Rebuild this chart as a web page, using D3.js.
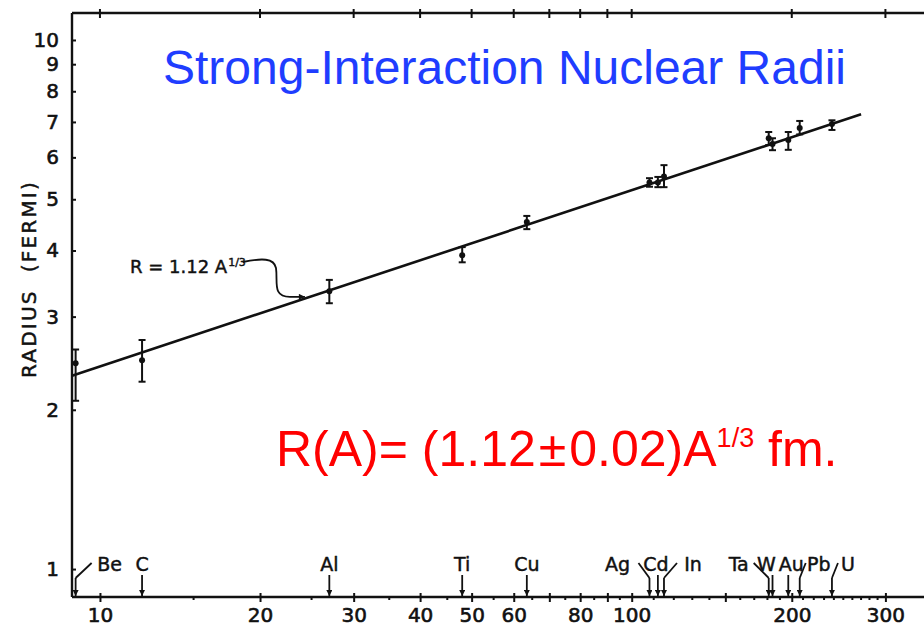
<!DOCTYPE html>
<html>
<head>
<meta charset="utf-8">
<script src="https://cdn.jsdelivr.net/npm/d3@7"></script>
<style>
  body { margin: 0; background: #fff; }
  svg { display: block; }
</style>
</head>
<body>
<svg id="chart" width="924" height="628"></svg>
<script>
// nuclei measured (mass number A, radius in fermi, error bar ends)
const elements = ["Be", "C", "Al", "Ti", "Cu", "Ag", "Cd", "In", "Ta", "W", "Au", "Pb", "U"];
const massNumbers = [9, 12, 27, 48, 63.5, 108, 112, 115, 181, 184, 197, 207, 238];
const radii = [2.45, 2.48, 3.35, 3.92, 4.53, 5.38, 5.38, 5.52, 6.52, 6.36, 6.47, 6.82, 6.94];
const radiusLow = [2.08, 2.26, 3.18, 3.80, 4.39, 5.28, 5.27, 5.27, 6.33, 6.19, 6.20, 6.63, 6.76];
const radiusHigh = [2.60, 2.71, 3.52, 4.06, 4.65, 5.48, 5.51, 5.80, 6.70, 6.52, 6.70, 7.03, 7.05];

// fitted line R = 1.12 A^1/3, end points as drawn
const fitA = [8.86, 270];
const fitR = [2.32, 7.24];

// axis ticks
const yTicks = [1, 2, 3, 4, 5, 6, 7, 8, 9, 10];
const xMajorTicks = [10, 20, 30, 40, 50, 60, 70, 80, 90, 100, 150, 200, 300];
const xLabels = [10, 20, 30, 40, 50, 60, 80, 100, 200, 300];
const xMinorTicks = [15, 25, 35, 45, 55, 65, 75, 85, 95, 110, 120, 130, 140, 160, 170, 180, 190,
  210, 220, 230, 240, 250, 260, 270, 280, 290];
const topTicks = [10, 20, 30, 40, 50, 60, 70, 80, 90, 100, 200, 300];

// where the element names sit relative to their arrows
const labelLayout = {
  Be: { dx: 34, lean: 16 },
  Ag: { dx: -32, lean: -11 },
  In: { dx: 29, lean: 13 },
  Ta: { dx: -30, lean: -15 },
  Pb: { dx: 19, lean: 6 },
  U: { dx: 16, lean: 6 },
  W: { dx: -6, lean: 0 },
  Au: { dx: 3, lean: 0 },
  Cd: { dx: -2, lean: 0 }
};

const svg = d3.select("#chart");
const width = 924;
const plot = { left: 72, top: 13, bottom: 597 };
const labelFont = '"DejaVu Sans", sans-serif';
const ink = "#111";

const x = d3.scaleLog().domain([8.86, 380]).range([plot.left, 940]);
const y = d3.scaleLog().domain([0.8855, 11.246]).range([plot.bottom, plot.top]);

function styleLabel(sel, size, weight) {
  sel.style("font-family", labelFont)
    .style("font-size", size + "px")
    .attr("fill", ink)
    .attr("stroke", ink)
    .attr("stroke-width", weight || 0.35);
}

svg.append("defs").append("marker")
  .attr("id", "head")
  .attr("viewBox", "0 0 10 10")
  .attr("refX", 10).attr("refY", 5)
  .attr("markerWidth", 9).attr("markerHeight", 6)
  .attr("markerUnits", "userSpaceOnUse")
  .attr("orient", "auto")
  .append("path").attr("d", "M0,0 L10,5 L0,10 Z").attr("fill", ink);

// frame lines
const frame = svg.append("g").attr("stroke", ink).attr("stroke-width", 2.4);
frame.append("line").attr("x1", plot.left).attr("x2", width).attr("y1", plot.bottom).attr("y2", plot.bottom);
frame.append("line").attr("x1", plot.left).attr("x2", width).attr("y1", plot.top).attr("y2", plot.top);
frame.append("line").attr("x1", plot.left).attr("x2", plot.left).attr("y1", plot.top).attr("y2", plot.bottom);

// bottom axis
const bottomAxis = svg.append("g")
  .attr("transform", `translate(0,${plot.bottom})`)
  .call(d3.axisBottom(x).tickValues(xMajorTicks).tickSize(5).tickPadding(6)
    .tickFormat(d => xLabels.includes(d) ? d : ""));
bottomAxis.select(".domain").remove();
bottomAxis.selectAll(".tick line").attr("y1", -4).attr("stroke", ink).attr("stroke-width", 2);
styleLabel(bottomAxis.selectAll(".tick text"), 20, 0.6);

svg.append("g").selectAll("line")
  .data(xMinorTicks)
  .join("line")
  .attr("x1", d => x(d)).attr("x2", d => x(d))
  .attr("y1", plot.bottom).attr("y2", plot.bottom + 3)
  .attr("stroke", ink).attr("stroke-width", 2);

// top axis
svg.append("g").selectAll("line")
  .data(topTicks)
  .join("line")
  .attr("x1", d => x(d)).attr("x2", d => x(d))
  .attr("y1", plot.top - 4).attr("y2", plot.top + 5)
  .attr("stroke", ink).attr("stroke-width", 2);

// left axis
const leftAxis = svg.append("g")
  .attr("transform", `translate(${plot.left},0)`)
  .call(d3.axisLeft(y).tickValues(yTicks).tickSize(9).tickPadding(4).tickFormat(d3.format("d")));
leftAxis.select(".domain").remove();
leftAxis.selectAll(".tick line").attr("x2", 4).attr("stroke", ink).attr("stroke-width", 2);
styleLabel(leftAxis.selectAll(".tick text"), 20, 0.6);

const yLabel = svg.append("text")
  .attr("transform", `translate(36,279) rotate(-90)`)
  .attr("text-anchor", "middle")
  .attr("letter-spacing", 2.2)
  .attr("xml:space", "preserve")
  .text("RADIUS  (FERMI)");
styleLabel(yLabel, 20, 0.5);

// fit line
svg.append("path")
  .datum(d3.zip(fitA, fitR))
  .attr("d", d3.line().x(d => x(d[0])).y(d => y(d[1])))
  .attr("fill", "none").attr("stroke", ink).attr("stroke-width", 2.6);

// data points with error bars
const points = svg.append("g").attr("stroke", ink).attr("stroke-width", 2);
elements.forEach((el, i) => {
  const cx = x(massNumbers[i]);
  const g = points.append("g");
  g.append("line").attr("x1", cx).attr("x2", cx)
    .attr("y1", y(radiusLow[i])).attr("y2", y(radiusHigh[i]));
  [radiusLow[i], radiusHigh[i]].forEach(v => {
    g.append("line").attr("x1", cx - 3.5).attr("x2", cx + 3.5)
      .attr("y1", y(v)).attr("y2", y(v));
  });
  g.append("circle").attr("cx", cx).attr("cy", y(radii[i])).attr("r", 3)
    .attr("fill", ink).attr("stroke", "none");
});

// element markers along the A axis
const marks = svg.append("g").attr("stroke", ink).attr("stroke-width", 1.8).attr("fill", "none");
elements.forEach((el, i) => {
  const ax = x(massNumbers[i]);
  const lay = labelLayout[el] || { dx: 0, lean: 0 };
  const top = lay.lean ? 578 : 575;
  marks.append("line").attr("x1", ax).attr("x2", ax)
    .attr("y1", top).attr("y2", plot.bottom - 1)
    .attr("marker-end", "url(#head)");
  if (lay.lean) {
    marks.append("line").attr("x1", ax).attr("x2", ax + lay.lean)
      .attr("y1", top).attr("y2", 563);
  }
  const t = svg.append("text")
    .attr("x", ax + lay.dx).attr("y", 571)
    .attr("text-anchor", "middle")
    .text(el);
  styleLabel(t, 19, 0.45);
});

// formula annotation with curly arrow
const tipA = 24.5;
const slope = Math.log(fitR[1] / fitR[0]) / Math.log(fitA[1] / fitA[0]);
const tip = [x(tipA), y(fitR[0] * Math.pow(tipA / fitA[0], slope))];
const note = svg.append("text").attr("x", 130).attr("y", 273);
note.append("tspan").text("R = 1.12 A");
note.append("tspan").style("font-size", "11px").attr("dy", -7).attr("dx", 1).text("1/3");
styleLabel(note, 18, 0.45);

svg.append("path")
  .attr("d", `M243,262 C262,258 274,258 276,268 C278,282 272,${tip[1] - 1} 290,${tip[1] - 1} L${tip[0] - 2},${tip[1] - 1}`)
  .attr("fill", "none").attr("stroke", ink).attr("stroke-width", 1.8)
  .attr("marker-end", "url(#head)");

// title
svg.append("text")
  .attr("x", 163).attr("y", 84)
  .attr("font-family", '"Liberation Sans", Arial, sans-serif')
  .attr("font-size", 48)
  .attr("fill", "#1f3dff")
  .text("Strong-Interaction Nuclear Radii");

// red result
const result = svg.append("text")
  .attr("x", 276).attr("y", 466)
  .attr("font-family", '"Liberation Sans", Arial, sans-serif')
  .attr("font-size", 50)
  .attr("fill", "#ff0000");
result.append("tspan").text("R(A)= (1.12");
result.append("tspan").attr("dx", 3).text("±");
result.append("tspan").attr("dx", 3).text("0.02)A");
result.append("tspan").attr("font-size", 27).attr("dy", -19).text("1/3");
result.append("tspan").attr("dy", 19).text(" fm.");
</script>
</body>
</html>
